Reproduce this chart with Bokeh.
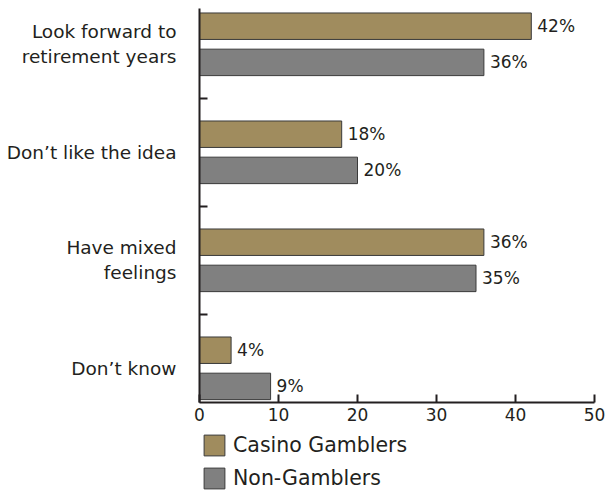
from bokeh.plotting import figure
from bokeh.layouts import column
from bokeh.models import (Range1d, FixedTicker, Legend, LegendItem, ColumnDataSource)
from bokeh.embed import file_html
from bokeh.resources import INLINE
from bokeh.core.properties import value

categories = ["Look forward to\nretirement years", "Don\u2019t like the idea",
              "Have mixed\nfeelings", "Don\u2019t know"]
casino = [42, 18, 36, 4]
non_gamblers = [36, 20, 35, 9]
x_ticks = [0, 10, 20, 30, 40, 50]
series_names = ["Casino Gamblers", "Non-Gamblers"]

GOLD = "#A08C5E"
GRAY = "#808080"
INK = "#231F20"
EDGE = "#3a3a3a"
FONT = "DejaVu Sans"

pos = list(range(len(categories)))
src_c = ColumnDataSource(dict(y=[i - 0.165 for i in pos], v=casino,
                              lab=[f"{v}%" for v in casino]))
src_n = ColumnDataSource(dict(y=[i + 0.170 for i in pos], v=non_gamblers,
                              lab=[f"{v}%" for v in non_gamblers]))

p = figure(width=609, height=430, output_backend="svg", toolbar_location=None,
           x_range=Range1d(0, 50), y_range=Range1d(3.319, -0.329),
           min_border_left=199, min_border_right=15, min_border_top=8,
           min_border_bottom=28)
p.outline_line_color = None
p.grid.grid_line_color = None

p.hbar(y="y", right="v", left=0, height=0.245, source=src_c,
       fill_color=GOLD, line_color=EDGE, line_width=1)
p.hbar(y="y", right="v", left=0, height=0.245, source=src_n,
       fill_color=GRAY, line_color=EDGE, line_width=1)

for s in (src_c, src_n):
    p.text(x="v", y="y", text="lab", source=s, x_offset=6,
           text_baseline="middle", text_align="left",
           text_font=value(FONT), text_font_size="17px", text_color=INK)

# x axis
xa = p.xaxis[0]
xa.ticker = FixedTicker(ticks=x_ticks)
xa.major_tick_in = 8
xa.major_tick_out = 0
xa.minor_tick_line_color = None
xa.axis_line_width = 2
xa.axis_line_color = INK
xa.major_tick_line_width = 2
xa.major_tick_line_color = INK
xa.major_label_text_font = FONT
xa.major_label_text_font_size = "17px"
xa.major_label_text_color = INK
xa.major_label_standoff = 5

# y axis
ya = p.yaxis[0]
ya.ticker = FixedTicker(ticks=pos, minor_ticks=[0.5, 1.5, 2.5])
ya.major_label_overrides = {i: c for i, c in zip(pos, categories)}
ya.major_tick_in = 0
ya.major_tick_out = 0
ya.minor_tick_in = 8
ya.minor_tick_out = 0
ya.minor_tick_line_width = 2
ya.minor_tick_line_color = INK
ya.axis_line_width = 2
ya.axis_line_color = INK
ya.major_label_text_font = FONT
ya.major_label_text_font_size = "18.5px"
ya.major_label_text_color = INK
ya.major_label_text_line_height = 1.2
ya.major_label_standoff = 23

# legend panel (separate figure so it is not clipped by the plot frame;
# its frame is aligned with the main plot frame by the column layout)
lg = figure(width=609, height=61, output_backend="svg", toolbar_location=None,
            x_axis_location=None, y_axis_location=None,
            x_range=Range1d(0, 1), y_range=Range1d(0, 1),
            min_border_left=199, min_border_right=15, min_border_top=0,
            min_border_bottom=0)
lg.outline_line_color = None
lg.grid.visible = False
lg.border_fill_color = "white"
lg.background_fill_color = "white"
# swatch-only renderers (no drawable row), used just for the legend keys
key_src = ColumnDataSource(dict(y=[float("nan")], v=[float("nan")]))
g1 = lg.hbar(y="y", right="v", left=0, height=0.2, source=key_src,
             fill_color=GOLD, line_color=EDGE, line_width=1)
g2 = lg.hbar(y="y", right="v", left=0, height=0.2, source=key_src,
             fill_color=GRAY, line_color=EDGE, line_width=1)
legend = Legend(items=[LegendItem(label=series_names[0], renderers=[g1]),
                       LegendItem(label=series_names[1], renderers=[g2])],
                location=(2, 0), orientation="vertical",
                glyph_width=26, glyph_height=26, label_standoff=6,
                spacing=7, padding=0, margin=0,
                label_text_font=FONT, label_text_font_size="20.5px",
                label_text_color=INK, border_line_color=None,
                background_fill_alpha=0)
lg.add_layout(legend, "center")

layout = column(p, lg, spacing=0)
open("out.html", "w").write(file_html(layout, INLINE))
